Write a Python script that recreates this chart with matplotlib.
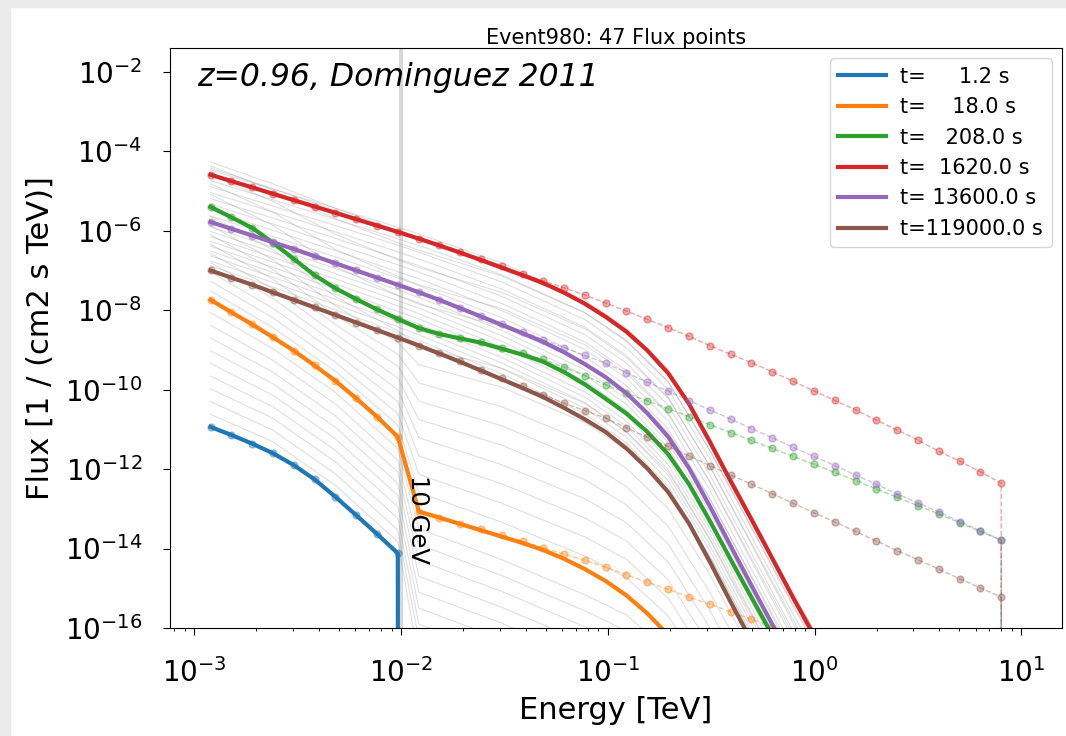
import numpy as np
import matplotlib
matplotlib.use("Agg")
from matplotlib import pyplot as plt
from matplotlib.patches import Rectangle

# energy bins [TeV]  (last bin carries zero flux)
energy = [0.0012, 0.00151, 0.00191, 0.0024, 0.00303, 0.00382, 0.00482, 0.00607,
          0.00765, 0.00965, 0.0122, 0.0153, 0.0193, 0.0244, 0.0307, 0.0387,
          0.0488, 0.0615, 0.0776, 0.0978, 0.123, 0.155, 0.196, 0.247, 0.311,
          0.393, 0.495, 0.624, 0.787, 0.991, 1.25, 1.58, 1.99, 2.50, 3.16,
          3.98, 5.02, 6.33, 7.98, 10.0]

# EBL absorption (dex) at each energy, z=0.96
ebl_dex = [0, 0, 0, 0, 0, 0, 0, 0, 0, 0, 0, 0, 0.01, 0.02, 0.03, 0.04, 0.06, 0.12,
           0.22, 0.35, 0.52, 0.78, 1.15, 1.70, 2.42, 3.20, 3.95, 4.70, 5.45,
           6.15, 6.80, 7.40, 8.00, 8.60, 9.10, 9.60, 10.10, 10.60, 11.00, 11.40]

NO = -np.inf  # zero flux

labels = ["t=     1.2 s", "t=    18.0 s", "t=   208.0 s",
          "t=  1620.0 s", "t= 13600.0 s", "t=119000.0 s"]
colors = ["tab:blue", "tab:orange", "tab:green", "tab:red", "tab:purple", "tab:brown"]

# log10 intrinsic flux of the highlighted slices
log_blue = [-10.94, -11.14, -11.36, -11.60, -11.90, -12.26, -12.70, -13.16,
            -13.63, -14.12] + [NO] * 30
log_orange = [-7.74, -8.05, -8.36, -8.68, -9.02, -9.39, -9.78, -10.22, -10.68,
              -11.19, -13.07, -13.22, -13.37, -13.52, -13.67, -13.82, -13.98,
              -14.14, -14.30, -14.47, -14.66, -14.85, -15.03, -15.22, -15.40,
              -15.59, -15.78, -15.97, -16.16, -16.35, -16.54, -16.73, -16.92,
              -17.11, -17.30, -17.49, -17.68, -17.87, -18.06, NO]
log_green = [-5.40, -5.66, -5.93, -6.30, -6.71, -7.12, -7.45, -7.72, -7.98,
             -8.22, -8.45, -8.60, -8.70, -8.80, -8.94, -9.08, -9.24, -9.44,
             -9.65, -9.88, -10.08, -10.28, -10.48, -10.68, -10.88, -11.08,
             -11.28, -11.48, -11.68, -11.88, -12.08, -12.29, -12.50, -12.71,
             -12.92, -13.13, -13.35, -13.57, -13.79, NO]
log_red = [-4.59, -4.75, -4.91, -5.07, -5.23, -5.39, -5.55, -5.71, -5.87, -6.03,
           -6.20, -6.37, -6.54, -6.72, -6.90, -7.08, -7.26, -7.44, -7.62, -7.82,
           -8.02, -8.23, -8.44, -8.66, -8.89, -9.11, -9.32, -9.55, -9.79,
           -10.03, -10.27, -10.51, -10.77, -11.01, -11.27, -11.55, -11.80,
           -12.07, -12.35, NO]
log_purple = [-5.78, -5.95, -6.12, -6.29, -6.46, -6.64, -6.82, -7.00, -7.18,
              -7.36, -7.55, -7.74, -7.94, -8.14, -8.34, -8.54, -8.74, -8.94,
              -9.14, -9.34, -9.57, -9.81, -10.04, -10.28, -10.51, -10.74,
              -10.98, -11.21, -11.45, -11.68, -11.91, -12.15, -12.38, -12.62,
              -12.85, -13.08, -13.32, -13.55, -13.79, NO]
log_brown = [-7.00, -7.18, -7.36, -7.55, -7.74, -7.93, -8.12, -8.31, -8.50,
             -8.69, -8.89, -9.09, -9.29, -9.50, -9.71, -9.92, -10.13, -10.34,
             -10.53, -10.72, -10.96, -11.20, -11.43, -11.67, -11.91, -12.15,
             -12.38, -12.62, -12.86, -13.10, -13.33, -13.57, -13.81, -14.05,
             -14.28, -14.52, -14.76, -14.99, -15.22, NO]

# other time slices (grey), log10 intrinsic flux at a subset of the bins
gray_bins = [0, 3, 6, 9, 10, 14, 18, 20, 22, 24, 26, 28, 30]
gray_log = [
    [-10.62, -11.31, -12.41, -13.83, -16.8, -17.55, -18.25, -18.45, -18.75, -19.1, -19.5, -19.9, -20.3],
    [-10.30, -11.02, -12.12, -13.53, -16.3, -17.05, -17.75, -17.95, -18.25, -18.6, -19.0, -19.4, -19.8],
    [-9.98, -10.72, -11.82, -13.24, -15.9, -16.65, -17.35, -17.55, -17.85, -18.2, -18.6, -19.0, -19.4],
    [-9.66, -10.43, -11.53, -12.95, -15.5, -16.25, -16.95, -17.15, -17.45, -17.8, -18.2, -18.6, -19.0],
    [-9.34, -10.14, -11.24, -12.66, -15.1, -15.85, -16.55, -16.75, -17.05, -17.4, -17.8, -18.2, -18.6],
    [-9.02, -9.85, -10.95, -12.36, -14.7, -15.45, -16.15, -16.35, -16.65, -17.0, -17.4, -17.8, -18.2],
    [-8.70, -9.56, -10.66, -12.07, -14.3, -15.05, -15.75, -15.95, -16.25, -16.6, -17.0, -17.4, -17.8],
    [-8.38, -9.26, -10.36, -11.78, -13.9, -14.65, -15.35, -15.55, -15.85, -16.2, -16.6, -17.0, -17.4],
    [-8.06, -8.97, -10.07, -11.48, -13.5, -14.25, -14.95, -15.15, -15.45, -15.8, -16.2, -16.6, -17.0],
    [-7.51, -8.44, -9.54, -10.89, -12.59, -13.31, -13.97, -14.21, -14.55, -14.92, -15.35, -15.75, -16.15],
    [-7.27, -8.19, -9.31, -10.60, -12.13, -12.83, -13.49, -13.75, -14.10, -14.47, -14.90, -15.30, -15.70],
    [-7.04, -7.95, -9.07, -10.30, -11.67, -12.34, -13.01, -13.29, -13.64, -14.02, -14.44, -14.84, -15.24],
    [-6.80, -7.70, -8.84, -10.00, -11.21, -11.86, -12.53, -12.83, -13.19, -13.57, -13.99, -14.39, -14.79],
    [-6.57, -7.46, -8.60, -9.71, -10.75, -11.37, -12.05, -12.38, -12.74, -13.13, -13.54, -13.94, -14.34],
    [-6.34, -7.22, -8.36, -9.41, -10.29, -10.88, -11.57, -11.92, -12.29, -12.68, -13.09, -13.49, -13.89],
    [-6.10, -6.97, -8.13, -9.11, -9.83, -10.40, -11.09, -11.46, -11.84, -12.23, -12.64, -13.04, -13.44],
    [-5.87, -6.73, -7.89, -8.81, -9.37, -9.91, -10.61, -11.00, -11.38, -11.78, -12.18, -12.58, -12.98],
    [-5.63, -6.48, -7.66, -8.52, -8.91, -9.43, -10.13, -10.54, -10.93, -11.33, -11.73, -12.13, -12.53],
    [-5.09, -5.86, -6.90, -7.63, -7.85, -8.38, -9.10, -9.52, -9.92, -10.34, -10.74, -11.15, -11.57],
    [-4.82, -5.53, -6.47, -7.15, -7.36, -7.93, -8.65, -9.07, -9.47, -9.89, -10.30, -10.72, -11.15],
    [-4.60, -5.26, -6.09, -6.73, -6.93, -7.52, -8.25, -8.67, -9.07, -9.50, -9.91, -10.34, -10.78],
    [-4.37, -4.98, -5.70, -6.30, -6.49, -7.11, -7.85, -8.26, -8.66, -9.10, -9.51, -9.96, -10.41],
    [-4.27, -4.82, -5.44, -5.99, -6.17, -6.83, -7.57, -7.98, -8.38, -8.82, -9.24, -9.70, -10.16],
    [-4.42, -4.94, -5.49, -6.00, -6.18, -6.85, -7.60, -8.00, -8.40, -8.86, -9.28, -9.74, -10.21],
    [-4.47, -4.95, -5.43, -5.91, -6.08, -6.78, -7.53, -7.93, -8.33, -8.79, -9.21, -9.68, -10.16],
    [-4.74, -5.22, -5.71, -6.20, -6.37, -7.08, -7.84, -8.24, -8.65, -9.11, -9.54, -10.01, -10.48],
    [-4.89, -5.38, -5.87, -6.36, -6.54, -7.26, -8.02, -8.43, -8.85, -9.31, -9.74, -10.21, -10.69],
    [-5.04, -5.53, -6.03, -6.53, -6.71, -7.44, -8.21, -8.62, -9.05, -9.51, -9.95, -10.42, -10.89],
    [-5.19, -5.68, -6.19, -6.70, -6.88, -7.62, -8.40, -8.81, -9.25, -9.71, -10.16, -10.63, -11.10],
    [-5.33, -5.83, -6.34, -6.86, -7.04, -7.80, -8.58, -9.00, -9.44, -9.91, -10.36, -10.83, -11.30],
    [-5.48, -5.99, -6.50, -7.03, -7.21, -7.98, -8.77, -9.19, -9.64, -10.11, -10.57, -11.04, -11.50],
    [-5.63, -6.14, -6.66, -7.19, -7.38, -8.16, -8.95, -9.38, -9.84, -10.31, -10.77, -11.24, -11.71],
    [-5.90, -6.42, -6.95, -7.49, -7.68, -8.48, -9.28, -9.71, -10.18, -10.65, -11.12, -11.59, -12.05],
    [-6.02, -6.54, -7.08, -7.63, -7.82, -8.61, -9.42, -9.85, -10.32, -10.79, -11.26, -11.73, -12.19],
    [-6.15, -6.67, -7.21, -7.76, -7.95, -8.75, -9.56, -9.99, -10.46, -10.93, -11.40, -11.87, -12.34],
    [-6.27, -6.79, -7.34, -7.89, -8.09, -8.89, -9.70, -10.13, -10.60, -11.07, -11.54, -12.01, -12.48],
    [-6.39, -6.92, -7.47, -8.03, -8.22, -9.03, -9.84, -10.27, -10.74, -11.21, -11.68, -12.16, -12.62],
    [-6.51, -7.05, -7.60, -8.16, -8.35, -9.16, -9.97, -10.40, -10.87, -11.35, -11.82, -12.30, -12.76],
    [-6.63, -7.17, -7.73, -8.29, -8.49, -9.30, -10.11, -10.54, -11.01, -11.49, -11.96, -12.44, -12.90],
    [-6.76, -7.30, -7.86, -8.42, -8.62, -9.44, -10.25, -10.68, -11.15, -11.63, -12.10, -12.58, -13.05],
    [-6.88, -7.42, -7.99, -8.56, -8.76, -9.57, -10.39, -10.82, -11.29, -11.77, -12.24, -12.72, -13.19],
]

E = np.array(energy)
att = np.array(ebl_dex)
gb = np.array(gray_bins)

fig = plt.figure(figsize=(10.66, 7.36), dpi=100)
# screenshot frame
fig.add_artist(Rectangle((0, 0), 10 / 1066, 1, transform=fig.transFigure,
                         color="#ebebeb", zorder=-5))
fig.add_artist(Rectangle((0, 1 - 7 / 736), 1, 7 / 736, transform=fig.transFigure,
                         color="#ebebeb", zorder=-5))

ax = fig.add_axes([170 / 1066, 1 - 628 / 736, 892 / 1066, 580 / 736])
ax.set_xscale("log")
ax.set_yscale("log")

for row in gray_log:
    ax.plot(E[gb], 10 ** (np.array(row) - att[gb]), color="grey", lw=0.8, alpha=0.25)

ax.axvline(0.01, color="grey", alpha=0.3, lw=3)
ax.text(0.0106, 10 ** -12.15, "10 GeV", rotation=270, fontsize=17.5, va="top", ha="left")

series = [log_blue, log_orange, log_green, log_red, log_purple, log_brown]
for logf, col, lab in zip(series, colors, labels):
    intr = 10 ** np.array(logf)
    ax.plot(E, intr * 10 ** (-att), color=col, lw=3, label=lab)
    ax.plot(E, intr, "o--", color=col, ms=5, lw=1, alpha=0.4)

ax.set_xlim(10 ** -3.117, 10 ** 1.196)
ax.set_ylim(1e-16, 10 ** -1.4)
ax.set_yticks([1e-16, 1e-14, 1e-12, 1e-10, 1e-8, 1e-6, 1e-4, 1e-2])

ax.tick_params(axis="both", which="major", labelsize=20, length=5)
ax.tick_params(axis="y", which="major", pad=15)
ax.tick_params(axis="x", which="major", pad=17)

ax.set_xlabel("Energy [TeV]", fontsize=22)
ax.set_ylabel("Flux [1 / (cm2 s TeV)]", fontsize=22)
ax.xaxis.set_label_coords(0.5, -0.117)
ax.yaxis.set_label_coords(-0.129, 0.5)
ax.set_title("Event980: 47 Flux points", fontsize=15, pad=2)

ax.text(0.030, 0.976, "z=0.96, Dominguez 2011", transform=ax.transAxes,
        fontsize=22.7, style="italic", va="top", ha="left")

ax.legend(loc="upper right", fontsize=15, handlelength=2.3, handletextpad=0.7)

plt.savefig("out.png", dpi=100)
